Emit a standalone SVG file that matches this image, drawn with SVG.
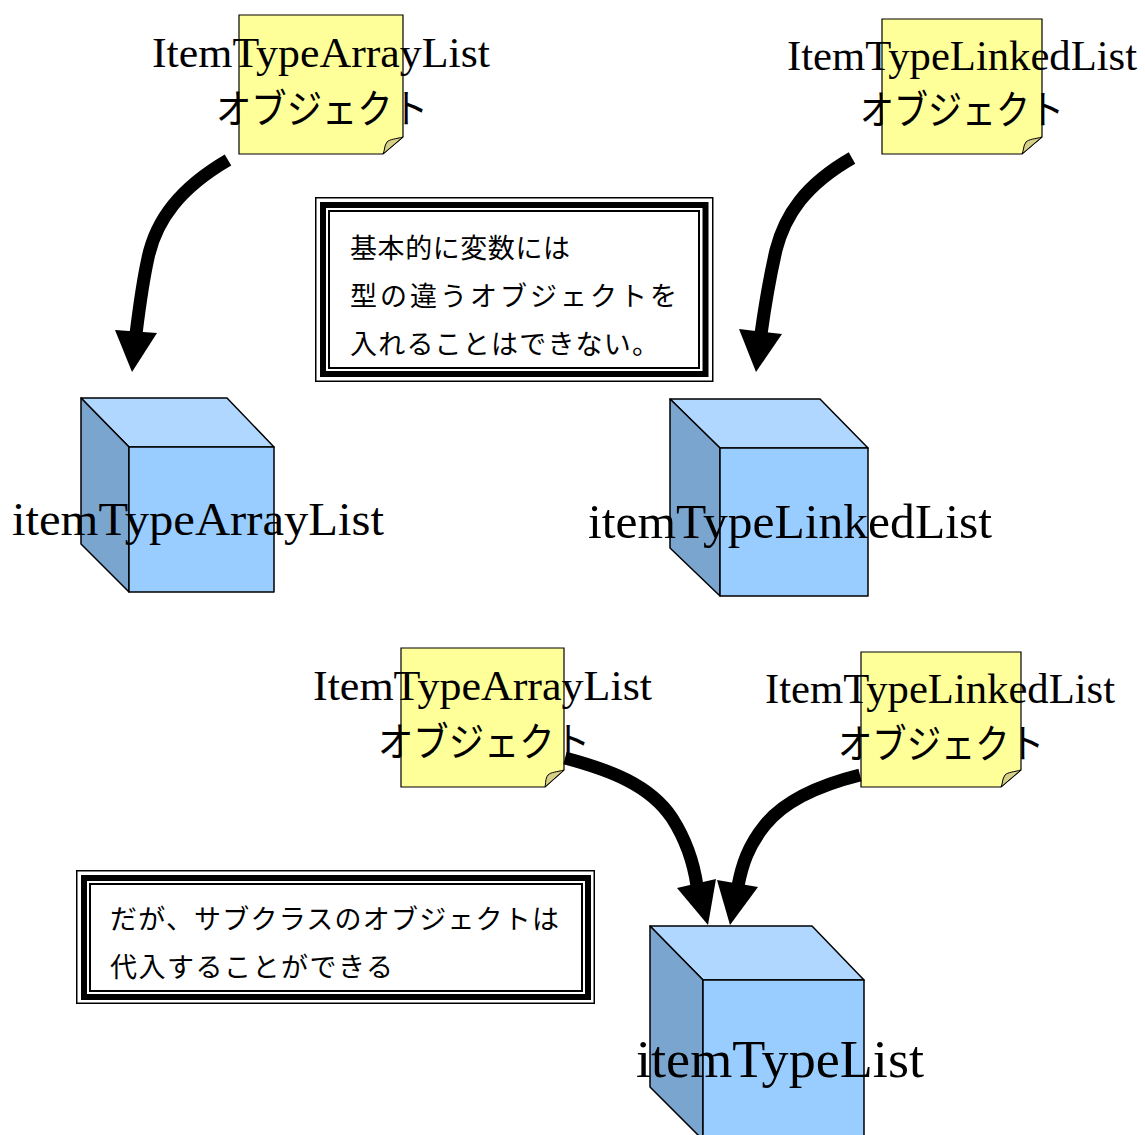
<svg xmlns="http://www.w3.org/2000/svg" width="1145" height="1135" viewBox="0 0 1145 1135">
  <style>
    .note { fill: #ffff99; stroke: #000; stroke-width: 1.2; }
    .flap { fill: #d6cf86; stroke: #000; stroke-width: 1; }
    .front { fill: #99ccff; stroke: #000; stroke-width: 1.5; stroke-linejoin: round; }
    .top { fill: #b0d7ff; stroke: #000; stroke-width: 1.5; stroke-linejoin: round; }
    .side { fill: #7aa5cf; stroke: #000; stroke-width: 1.5; stroke-linejoin: round; }
    .latin { font-family: "Liberation Serif", "Times New Roman", serif; fill: #000; text-anchor: middle; }
    .kana { font-family: "Noto Sans CJK JP", "Noto Sans", sans-serif; fill: #000; text-anchor: middle; }
    .memo { font-family: "Noto Sans CJK JP", "Noto Sans", sans-serif; font-size: 27px; fill: #000; }
    .frame { fill: none; stroke: #000; }
    .curve { fill: none; stroke: #000; stroke-width: 13; stroke-linecap: butt; }
    .head { fill: #000; }
  </style>

  <rect width="1145" height="1135" fill="#fff"/>

  <!-- object notes -->
  <g id="note-arraylist-top">
    <path class="note" d="M239,15 H403 V137 L383,154 H239 Z"/>
    <path class="flap" d="M383,154 L403,137 C396,139 390,139 387,142 C384,146 385,150 383,154 Z"/>
    <text class="latin" x="321" y="67" font-size="42" textLength="338" lengthAdjust="spacingAndGlyphs">ItemTypeArrayList</text>
    <text class="kana" x="322" y="123" font-size="40" textLength="212" lengthAdjust="spacingAndGlyphs">オブジェクト</text>
  </g>

  <g id="note-linkedlist-top">
    <path class="note" d="M882,19 H1042 V137 L1022,154 H882 Z"/>
    <path class="flap" d="M1022,154 L1042,137 C1035,139 1029,139 1026,142 C1023,146 1024,150 1022,154 Z"/>
    <text class="latin" x="962" y="70" font-size="42" textLength="350" lengthAdjust="spacingAndGlyphs">ItemTypeLinkedList</text>
    <text class="kana" x="962" y="124" font-size="40" textLength="204" lengthAdjust="spacingAndGlyphs">オブジェクト</text>
  </g>

  <g id="note-arraylist-bottom">
    <path class="note" d="M401,648 H564 V770 L545,787 H401 Z"/>
    <path class="flap" d="M545,787 L564,770 C557,772 551,772 548,775 C545,779 546,783 545,787 Z"/>
    <text class="latin" x="482.5" y="700" font-size="42" textLength="339" lengthAdjust="spacingAndGlyphs">ItemTypeArrayList</text>
    <text class="kana" x="484" y="756" font-size="40" textLength="212" lengthAdjust="spacingAndGlyphs">オブジェクト</text>
  </g>

  <g id="note-linkedlist-bottom">
    <path class="note" d="M861,652 H1021 V770 L1001,787 H861 Z"/>
    <path class="flap" d="M1001,787 L1021,770 C1014,772 1008,772 1005,775 C1002,779 1003,783 1001,787 Z"/>
    <text class="latin" x="940" y="703" font-size="42" textLength="350" lengthAdjust="spacingAndGlyphs">ItemTypeLinkedList</text>
    <text class="kana" x="941" y="758" font-size="40" textLength="206" lengthAdjust="spacingAndGlyphs">オブジェクト</text>
  </g>

  <!-- variables (cubes) -->
  <g id="var-arraylist">
    <polygon class="top" points="81,398 227,398 274,447 129,447"/>
    <polygon class="side" points="81,398 129,447 129,592 81,544"/>
    <rect class="front" x="129" y="447" width="145" height="145"/>
    <text class="latin" x="198" y="535" font-size="47" textLength="372" lengthAdjust="spacingAndGlyphs">itemTypeArrayList</text>
  </g>

  <g id="var-linkedlist">
    <polygon class="top" points="670,399 820,399 868,448 720,448"/>
    <polygon class="side" points="670,399 720,448 720,596 670,548"/>
    <rect class="front" x="720" y="448" width="148" height="148"/>
    <text class="latin" x="790" y="538" font-size="48" textLength="404" lengthAdjust="spacingAndGlyphs">itemTypeLinkedList</text>
  </g>

  <g id="var-list">
    <polygon class="top" points="650,926 812,926 864,980 703,980"/>
    <polygon class="side" points="650,926 703,980 703,1140 650,1087"/>
    <rect class="front" x="703" y="980" width="161" height="160"/>
    <text class="latin" x="780" y="1077" font-size="52" textLength="288" lengthAdjust="spacingAndGlyphs">itemTypeList</text>
  </g>

  <!-- explanatory frames -->
  <g id="memo-cannot">
    <rect x="315.75" y="197.75" width="397" height="183.5" fill="#fff" stroke="#000" stroke-width="1.5"/>
    <rect class="frame" x="323" y="205" width="382.5" height="169" stroke-width="6"/>
    <rect class="frame" x="329" y="211" width="370" height="157" stroke-width="2"/>
    <text class="memo" x="350" y="258" textLength="220" lengthAdjust="spacing">基本的に変数には</text>
    <text class="memo" x="350" y="306" textLength="327" lengthAdjust="spacing">型の違うオブジェクトを</text>
    <text class="memo" x="350" y="354" textLength="309" lengthAdjust="spacing">入れることはできない。</text>
  </g>

  <g id="memo-can">
    <rect x="76.75" y="870.75" width="517.5" height="132.5" fill="#fff" stroke="#000" stroke-width="1.5"/>
    <rect class="frame" x="84" y="878" width="504" height="119" stroke-width="6"/>
    <rect class="frame" x="90" y="884" width="492" height="107" stroke-width="2"/>
    <text class="memo" x="110" y="929" textLength="449" lengthAdjust="spacing">だが、サブクラスのオブジェクトは</text>
    <text class="memo" x="110" y="977" textLength="283" lengthAdjust="spacing">代入することができる</text>
  </g>

  <!-- connectors -->
  <g id="connectors">
    <path class="curve" d="M228,160 C180,188 156,220 148,258 C142,285 139,310 136,334"/>
    <polygon class="head" points="115,330 157,333 132,372"/>

    <path class="curve" d="M852,158 C805,185 785,215 776,250 C768,285 765,305 761,334"/>
    <polygon class="head" points="739,329 782,334 756,372"/>

    <path class="curve" d="M565,758 C610,770 650,785 672,818 C688,843 694,865 697,886"/>
    <polygon class="head" points="677,888 716,879 708,925"/>

    <path class="curve" d="M860,775 C820,785 785,800 765,825 C748,846 742,865 738,886"/>
    <polygon class="head" points="717,880 758,887 730,925"/>
  </g>
</svg>
